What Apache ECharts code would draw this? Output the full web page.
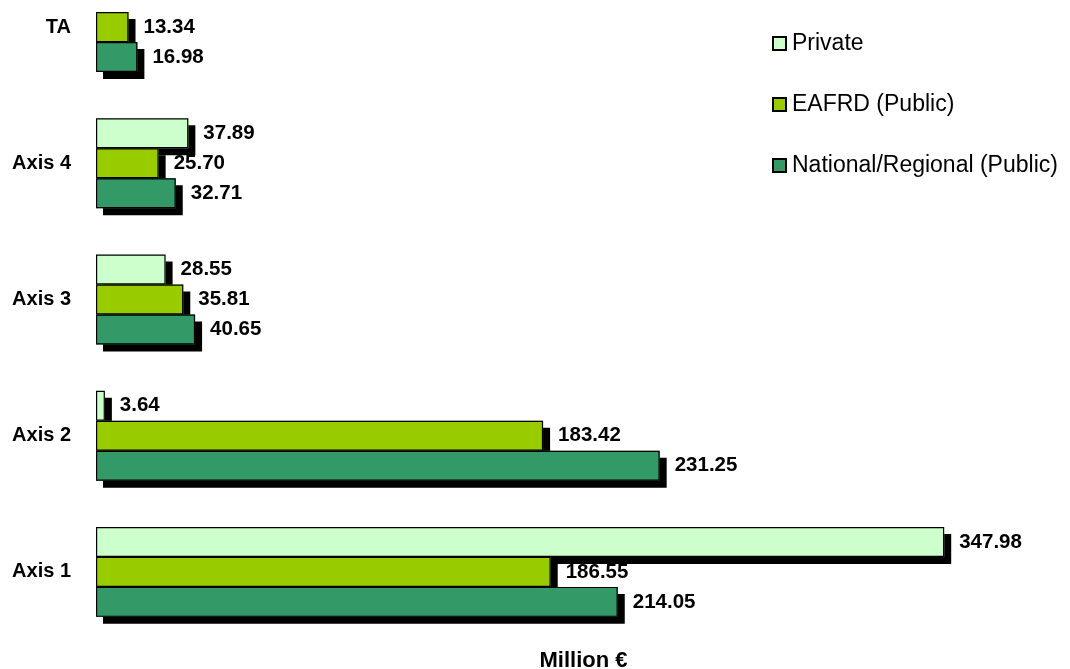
<!DOCTYPE html>
<html>
<head>
<meta charset="utf-8">
<script src="https://cdn.jsdelivr.net/npm/echarts@6/dist/echarts.min.js"></script>
<style>
html,body{margin:0;padding:0;background:#fff;}
#c{width:1070px;height:669px;}
</style>
</head>
<body>
<div id="c"></div>
<script>
const categories = ['Axis 1', 'Axis 2', 'Axis 3', 'Axis 4', 'TA'];
const privateVals = [347.98, 3.64, 28.55, 37.89, null];
const eafrdVals = [186.55, 183.42, 35.81, 25.70, 13.34];
const nationalVals = [214.05, 231.25, 40.65, 32.71, 16.98];
const seriesNames = ['Private', 'EAFRD (Public)', 'National/Regional (Public)'];
const seriesColors = ['#ccffcc', '#99cc00', '#339966'];

const font = 'Arial, "Liberation Sans", Helvetica, sans-serif';
const chart = echarts.init(document.getElementById('c'));

// shadow layer: same bars on an identical hidden axis, drawn underneath with a hard black drop shadow
function shadowSeries(name, data, color) {
  return {
    name: 'shadow ' + name,
    type: 'bar',
    yAxisIndex: 1,
    data: data,
    barGap: '0%',
    barCategoryGap: '34%',
    z: 1,
    silent: true,
    itemStyle: {
      color: color,
      borderWidth: 0,
      shadowColor: '#000',
      shadowBlur: 0,
      shadowOffsetX: 7,
      shadowOffsetY: 7
    },
    label: { show: false },
    emphasis: { disabled: true },
    animation: false
  };
}

function mainSeries(name, data, color) {
  return {
    name: name,
    type: 'bar',
    yAxisIndex: 0,
    data: data,
    barGap: '0%',
    barCategoryGap: '34%',
    z: 3,
    itemStyle: {
      color: color,
      borderColor: '#000',
      borderWidth: 1.2
    },
    label: {
      show: true,
      position: 'right',
      distance: 15,
      color: '#000',
      fontFamily: font,
      fontWeight: 'bold',
      fontSize: 20.5,
      formatter: p => (p.value == null ? '' : Number(p.value).toFixed(2))
    },
    emphasis: { disabled: true },
    animation: false
  };
}

const yAxisBase = {
  type: 'category',
  data: categories,
  axisLine: { show: false },
  axisTick: { show: false },
  splitLine: { show: false }
};

chart.setOption({
  animation: false,
  backgroundColor: '#fff',
  grid: { left: 96, top: -41, width: 975, height: 681, containLabel: false, outerBoundsMode: 'none' },
  legend: {
    data: seriesNames,
    orient: 'vertical',
    left: 767,
    top: 27,
    itemWidth: 13,
    itemHeight: 13,
    itemGap: 38,
    icon: 'rect',
    itemStyle: { borderColor: '#000', borderWidth: 2 },
    textStyle: { fontFamily: font, fontSize: 23, color: '#000', padding: [0, 0, 0, 1] }
  },
  xAxis: {
    type: 'value',
    min: 0,
    max: 400,
    axisLine: { show: false },
    axisTick: { show: false },
    axisLabel: { show: false },
    splitLine: { show: false },
    name: 'Million €',
    nameLocation: 'middle',
    nameGap: 10,
    nameTextStyle: { fontFamily: font, fontWeight: 'bold', fontSize: 22, color: '#000', verticalAlign: 'top' }
  },
  yAxis: [
    Object.assign({}, yAxisBase, {
      axisLabel: { color: '#000', fontFamily: font, fontWeight: 'bold', fontSize: 20, margin: 25 }
    }),
    Object.assign({}, yAxisBase, { show: false, axisLabel: { show: false } })
  ],
  series: [
    shadowSeries(seriesNames[0], privateVals, seriesColors[0]),
    shadowSeries(seriesNames[1], eafrdVals, seriesColors[1]),
    shadowSeries(seriesNames[2], nationalVals, seriesColors[2]),
    mainSeries(seriesNames[0], privateVals, seriesColors[0]),
    mainSeries(seriesNames[1], eafrdVals, seriesColors[1]),
    mainSeries(seriesNames[2], nationalVals, seriesColors[2])
  ]
});
</script>
</body>
</html>
